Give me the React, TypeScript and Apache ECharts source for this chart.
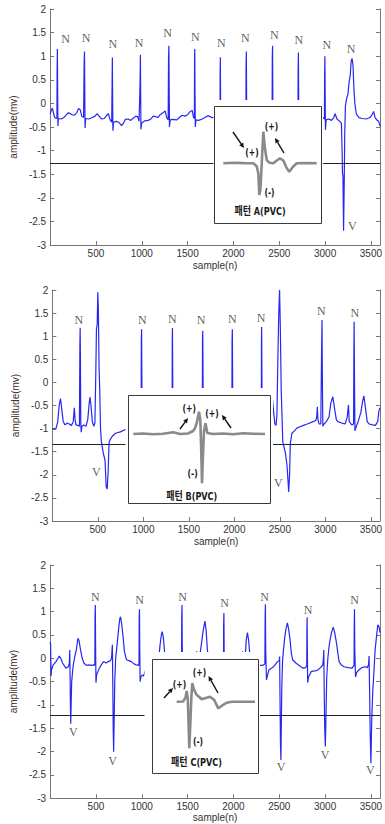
import React, { useEffect, useRef } from "react";
import * as echarts from "echarts";

// ---------- data ----------
const X_TICKS_MAX = 3600;
const THRESHOLDS = [-1.27, -1.33, -1.23];

const SIG1: number[][] = [
  [0,-0.22],[12,-0.15],[25,-0.1],[38,-0.22],[50,-0.3],[68,-0.32],[74,-0.3],[76,0.65],[79,1.15],[82,0.3],[85,-0.48],[90,-0.32],[120,-0.33],[150,-0.3],[175,-0.25],[195,-0.2],[215,-0.21],[240,-0.24],[265,-0.25],[290,-0.2],[310,-0.11],[330,-0.14],[345,-0.27],[365,-0.3],[371,0.85],[375,1.1],[378,0.3],[381,-0.52],[388,-0.32],[420,-0.33],[460,-0.3],[490,-0.27],[510,-0.22],[530,-0.26],[560,-0.33],[590,-0.32],[615,-0.26],[635,-0.22],[655,-0.35],[672,-0.4],[676,0.4],[679,0.97],[682,0.1],[685,-0.58],[692,-0.4],[720,-0.38],[750,-0.4],[780,-0.47],[800,-0.42],[820,-0.34],[850,-0.33],[880,-0.36],[910,-0.31],[935,-0.27],[955,-0.28],[970,-0.38],[981,0.4],[985,1.03],[988,0.2],[991,-0.55],[998,-0.42],[1030,-0.37],[1070,-0.36],[1100,-0.33],[1125,-0.27],[1150,-0.28],[1175,-0.3],[1200,-0.24],[1230,-0.2],[1255,-0.16],[1272,-0.3],[1288,-0.35],[1292,0.95],[1296,1.22],[1299,0.3],[1302,-0.5],[1310,-0.35],[1340,-0.34],[1380,-0.35],[1410,-0.3],[1440,-0.25],[1470,-0.27],[1500,-0.24],[1530,-0.17],[1550,-0.15],[1565,-0.3],[1574,-0.32],[1576,0.9],[1578,1.15],[1581,0.2],[1584,-0.5],[1592,-0.35],[1620,-0.36],[1660,-0.33],[1690,-0.3],[1720,-0.26],[1745,-0.28],[1765,-0.3],[1800,-0.3],[1840,-0.3],[1854,-0.3],[1855,0.65],[1857,0.98],[1860,0.1],[1863,-0.5],[1870,-0.33],[1950,-0.3],[2050,-0.3],[2136,-0.3],[2138,0.8],[2141,1.1],[2144,0.1],[2147,-0.5],[2155,-0.33],[2250,-0.3],[2350,-0.3],[2422,-0.3],[2424,0.95],[2427,1.22],[2430,0.1],[2433,-0.5],[2440,-0.33],[2550,-0.3],[2650,-0.3],[2704,-0.3],[2706,0.7],[2709,1.08],[2712,0.1],[2715,-0.5],[2722,-0.33],[2820,-0.3],[2900,-0.25],[2920,-0.15],[2945,-0.22],[2975,-0.3],[2993,-0.33],[2995,0.6],[2998,1.0],[3001,0.2],[3004,-0.56],[3012,-0.35],[3040,-0.33],[3070,-0.36],[3095,-0.3],[3110,-0.22],[3130,-0.33],[3160,-0.38],[3178,-0.42],[3186,-1.0],[3190,-1.48],[3195,-1.52],[3199,-2.2],[3202,-2.7],[3206,-2.1],[3210,-1.5],[3215,-0.6],[3222,-0.05],[3235,0.1],[3250,0.2],[3262,0.45],[3275,0.6],[3285,0.9],[3295,0.95],[3305,0.8],[3315,0.3],[3325,0.0],[3340,-0.22],[3370,-0.3],[3400,-0.32],[3450,-0.33],[3490,-0.3],[3510,-0.25],[3530,-0.17],[3545,-0.3],[3565,-0.35],[3585,-0.38],[3600,-0.48]
];

const SIG2: number[][] = [
  [0,-0.99],[20,-1.02],[40,-1.0],[60,-0.85],[75,-0.5],[90,-0.35],[105,-0.6],[120,-0.85],[140,-0.92],[165,-0.88],[185,-0.9],[210,-0.93],[230,-0.85],[242,-0.55],[250,-0.8],[260,-0.92],[280,-0.93],[298,-0.95],[303,0.8],[306,1.18],[309,0.5],[313,-0.9],[318,-1.08],[325,-0.95],[345,-0.92],[370,-0.95],[390,-0.8],[405,-0.45],[414,-0.32],[425,-0.5],[440,-0.85],[455,-0.95],[468,-0.88],[478,0.2],[485,1.15],[493,1.25],[500,1.95],[506,1.6],[514,0.3],[521,-0.16],[530,-1.0],[539,-1.28],[560,-1.53],[579,-1.68],[592,-2.26],[603,-2.31],[614,-1.9],[624,-1.3],[633,-1.25],[657,-1.17],[694,-1.1],[748,-1.07],[791,-1.03],[830,-1.0],[870,-1.0],[920,-0.98],[976,-0.98],[978,0.9],[981,1.15],[984,0.1],[987,-1.0],[995,-0.98],[1100,-1.0],[1200,-0.98],[1316,-1.0],[1318,0.9],[1320,1.18],[1323,0.1],[1326,-1.0],[1400,-0.98],[1500,-1.0],[1648,-1.0],[1650,0.9],[1653,1.12],[1656,0.1],[1659,-1.0],[1750,-1.0],[1850,-0.98],[1973,-1.0],[1975,0.9],[1978,1.15],[1981,0.1],[1984,-1.0],[2100,-0.98],[2200,-1.0],[2296,-1.0],[2298,0.9],[2300,1.2],[2303,0.1],[2306,-1.0],[2340,-0.97],[2371,-0.96],[2395,-0.7],[2410,-0.4],[2418,-0.35],[2430,-0.6],[2445,-0.9],[2458,-0.93],[2468,-0.7],[2478,0.5],[2488,1.5],[2497,2.0],[2505,1.2],[2515,-0.16],[2532,-1.28],[2561,-1.53],[2580,-1.82],[2597,-2.37],[2607,-2.0],[2615,-1.32],[2633,-1.1],[2660,-1.05],[2687,-0.99],[2720,-0.96],[2759,-0.93],[2800,-0.9],[2866,-0.85],[2895,-0.82],[2905,-0.75],[2912,-0.53],[2918,-0.8],[2930,-0.9],[2950,-0.9],[2958,0.6],[2963,1.35],[2967,0.1],[2972,-0.95],[2985,-0.9],[3010,-0.85],[3040,-0.75],[3060,-0.45],[3082,-0.31],[3100,-0.55],[3120,-0.8],[3136,-0.85],[3180,-0.88],[3217,-0.9],[3240,-0.75],[3254,-0.49],[3262,-0.85],[3290,-0.92],[3310,-0.9],[3313,0.5],[3316,1.31],[3320,0.1],[3325,-1.05],[3340,-0.95],[3360,-0.85],[3390,-0.65],[3410,-0.4],[3423,-0.29],[3440,-0.55],[3460,-0.85],[3480,-0.9],[3520,-0.92],[3550,-0.93],[3575,-0.85],[3590,-0.6],[3600,-0.55]
];

const SIG3: number[][] = [
  [0,0.35],[5,0.3],[10,-0.38],[15,-0.25],[30,-0.15],[64,-0.07],[100,0.05],[120,-0.02],[136,-0.1],[171,-0.21],[200,-0.18],[210,-0.1],[214,0.18],[218,-0.4],[222,-1.1],[225,-1.4],[229,-1.0],[235,-0.5],[250,-0.18],[270,0.05],[286,0.18],[303,0.43],[315,0.38],[332,0.18],[350,0.0],[368,-0.1],[395,-0.15],[421,-0.14],[450,-0.15],[475,-0.14],[485,-0.15],[488,-0.1],[490,0.9],[493,1.14],[496,0.3],[500,-0.52],[508,-0.35],[528,-0.25],[555,-0.15],[582,-0.07],[610,-0.1],[635,-0.07],[657,-0.05],[670,0.0],[679,0.29],[684,-0.6],[688,-1.5],[693,-2.0],[698,-1.4],[705,-0.5],[715,0.0],[725,0.18],[738,0.45],[750,0.68],[760,0.85],[768,0.89],[780,0.75],[796,0.46],[810,0.15],[832,-0.03],[860,-0.05],[886,-0.07],[915,-0.12],[939,-0.14],[965,-0.15],[970,-0.1],[972,0.9],[975,1.05],[978,0.2],[982,-0.5],[990,-0.4],[1004,-0.36],[1020,-0.38],[1050,-0.2],[1080,-0.15],[1110,-0.1],[1140,-0.1],[1150,0.1],[1160,-1.0],[1167,-1.8],[1175,-0.8],[1185,0.0],[1200,0.3],[1215,0.52],[1224,0.57],[1235,0.45],[1248,0.15],[1265,-0.05],[1300,-0.1],[1350,-0.15],[1420,-0.15],[1434,-0.15],[1436,0.9],[1439,1.14],[1442,0.2],[1446,-0.5],[1460,-0.3],[1500,-0.15],[1560,-0.1],[1595,-0.05],[1600,0.15],[1605,-1.0],[1612,-1.9],[1620,-1.0],[1630,0.0],[1650,0.3],[1670,0.6],[1689,0.8],[1702,0.6],[1715,0.2],[1730,-0.05],[1800,-0.12],[1880,-0.15],[1892,-0.15],[1893,0.7],[1896,0.97],[1899,0.1],[1903,-0.5],[1915,-0.3],[1980,-0.15],[2060,-0.1],[2095,-0.05],[2100,0.15],[2106,-1.0],[2112,-1.9],[2120,-1.0],[2128,0.0],[2140,0.4],[2153,0.55],[2165,0.4],[2178,0.1],[2200,-0.05],[2240,-0.1],[2261,-0.1],[2290,-0.15],[2320,-0.15],[2343,-0.12],[2346,0.9],[2349,1.16],[2352,0.2],[2360,-0.46],[2386,-0.25],[2439,-0.18],[2482,-0.07],[2500,-0.05],[2504,0.04],[2508,-0.8],[2513,-1.8],[2518,-2.18],[2522,-1.5],[2528,-0.6],[2536,-0.05],[2546,0.18],[2560,0.45],[2571,0.61],[2589,0.76],[2603,0.62],[2618,0.39],[2632,0.1],[2646,-0.03],[2680,-0.1],[2707,-0.14],[2735,-0.18],[2761,-0.21],[2790,-0.2],[2800,-0.15],[2802,0.6],[2804,0.88],[2807,0.1],[2810,-0.52],[2820,-0.4],[2850,-0.28],[2890,-0.27],[2921,-0.25],[2950,-0.2],[2975,-0.14],[2982,0.0],[2986,0.18],[2990,-0.6],[2996,-1.5],[3003,-1.89],[3010,-1.2],[3018,-0.4],[3029,-0.03],[3040,0.2],[3054,0.39],[3070,0.55],[3089,0.67],[3105,0.55],[3125,0.32],[3140,0.1],[3153,-0.07],[3180,-0.15],[3207,-0.18],[3250,-0.2],[3296,-0.21],[3316,-0.15],[3318,0.7],[3321,1.05],[3324,0.2],[3332,-0.4],[3345,-0.3],[3367,-0.25],[3400,-0.2],[3439,-0.18],[3460,-0.2],[3474,-0.14],[3480,0.05],[3485,-0.6],[3492,-1.6],[3500,-2.25],[3508,-1.4],[3520,-0.7],[3528,-0.46],[3538,-0.1],[3546,0.18],[3560,0.45],[3575,0.72],[3588,0.68],[3600,0.55]
];

// beat labels: [sample, amplitude, text]
const LABELS1: [number, number, string][] = [
  [168,1.36,"N"],[393,1.39,"N"],[685,1.25,"N"],[971,1.29,"N"],[1282,1.49,"N"],[1585,1.41,"N"],[1867,1.27,"N"],[2131,1.38,"N"],[2445,1.45,"N"],[2713,1.34,"N"],[3019,1.24,"N"],[3284,1.15,"N"],[3297,-2.6,"V"]
];
const LABELS2: [number, number, string][] = [
  [291,1.35,"N"],[988,1.35,"N"],[1319,1.37,"N"],[1634,1.34,"N"],[1979,1.37,"N"],[2295,1.4,"N"],[2957,1.55,"N"],[3323,1.5,"N"],[485,-1.95,"V"],[2483,-2.17,"V"]
];
const LABELS3: [number, number, string][] = [
  [493,1.32,"N"],[975,1.25,"N"],[1446,1.32,"N"],[1904,1.18,"N"],[2339,1.32,"N"],[2814,1.04,"N"],[3321,1.25,"N"],[254,-1.57,"V"],[682,-2.19,"V"],[2521,-2.32,"V"],[3000,-2.07,"V"],[3493,-2.39,"V"]
];

// inset PVC templates (inset units)
const PVC_A: number[][] = [
  [9.3,0],[20,0.05],[30,0.02],[39.3,0],[42.7,-0.3],[44.3,-1.0],[45.3,-3.17],[46.4,-2.6],[47.6,-0.3],[49.3,3.16],[50.8,1.6],[52.7,0.33],[55.5,0.05],[59.3,0],[62.5,0.25],[66,0.5],[69.5,0.25],[72.5,-0.45],[75.3,-0.84],[79,-0.35],[82.7,0],[92,0.03],[102.7,0]
];
const PVC_B: number[][] = [
  [5.3,0],[15,0.05],[25,-0.03],[35,0.03],[45.3,0.17],[52,0],[60,0.05],[65,0.3],[67,0.57],[69,1.2],[71,2.23],[72.3,1.4],[73.2,-1.5],[74,-4.93],[75,-2.0],[76,0.3],[77.5,1.07],[79.3,0.1],[85,0],[95,0.05],[105,-0.02],[115,0.08],[125,0.02],[137,0]
];
const PVC_C: number[][] = [
  [24.7,0],[31,0.02],[33.5,0.4],[34.7,1.07],[35.8,0.3],[36.5,-2.0],[37.3,-4.66],[38.4,-2.0],[39.4,0.5],[40.3,1.87],[42,1.2],[44.7,0.67],[47,0.5],[49.7,0.24],[53,0.35],[58,0.5],[62,0.2],[66.3,-0.66],[70,-0.4],[74.7,-0.1],[80,0],[103,0]
];

const INSET_NAMES = ["패턴 A(PVC)", "패턴 B(PVC)", "패턴 C(PVC)"];

// ---------- layout ----------
const MAIN_GRIDS = [
  { left: 49.3, top: 9, width: 336.2, height: 236, nameGap: 15 },
  { left: 52.3, top: 290, width: 334.1, height: 231, nameGap: 15 },
  { left: 49, top: 565, width: 336, height: 233.3, nameGap: 13.5 },
];
// inset boxes and their white masks
const BOXES = [
  { x: 214, y: 106, w: 107, h: 117, base: 57.3, mask: [213.5, 100, 109.5, 124] },
  { x: 128, y: 395, w: 142, h: 108, base: 39, mask: [125.5, 388, 147.5, 116] },
  { x: 152, y: 659, w: 106, h: 114, base: 42.7, mask: [144.5, 652, 115.5, 122] },
];
const INSET_TEXTS = [
  { p1: [252, 152], p2: [271.5, 126], m: [269.5, 192], name: [260, 211],
    a1: [233, 132, 244, 148], a2: [284, 153, 275, 138] },
  { p1: [189.3, 408.3], p2: [212, 413], m: [192.7, 473.3], name: [191.7, 496.5],
    a1: [180, 429, 188, 418], a2: [231, 428, 222, 415] },
  { p1: [179.5, 684], p2: [199.5, 672.7], m: [198, 741], name: [196.5, 762.5],
    a1: [164, 698, 173, 688], a2: [218, 693, 208.5, 676] },
];

const BLUE = "#2727f2";
const TXT = "#333";

function arrow(x1: number, y1: number, x2: number, y2: number) {
  const ang = Math.atan2(y2 - y1, x2 - x1);
  const L = 5, W = 2.4;
  const bx = x2 - L * Math.cos(ang), by = y2 - L * Math.sin(ang);
  const px = -Math.sin(ang) * W, py = Math.cos(ang) * W;
  return [
    { type: "line", z: 30, shape: { x1, y1, x2: bx, y2: by }, style: { stroke: "#111", lineWidth: 1.4 } },
    { type: "polygon", z: 30, shape: { points: [[x2, y2], [bx + px, by + py], [bx - px, by - py]] }, style: { fill: "#111" } },
  ];
}

function insetText(x: number, y: number, text: string, size: number, sx: number) {
  return {
    type: "text", z: 30, x, y, scaleX: sx,
    style: {
      text, fill: "#1a1a1a", fontSize: size, fontWeight: "bold",
      fontFamily: "'DejaVu Sans Condensed', 'Noto Sans CJK KR', sans-serif",
      align: "center", verticalAlign: "middle",
    },
  };
}

export default function App() {
  const ref = useRef<HTMLDivElement>(null);
  useEffect(() => {
    if (!ref.current) return;
    const chart = echarts.init(ref.current, null, { renderer: "svg" });
    const sigs = [SIG1, SIG2, SIG3];
    const labels = [LABELS1, LABELS2, LABELS3];
    const pvcs = [PVC_A, PVC_B, PVC_C];

    const grids: any[] = [];
    const xAxes: any[] = [];
    const yAxes: any[] = [];
    const series: any[] = [];

    MAIN_GRIDS.forEach((g, i) => {
      grids.push({ left: g.left, top: g.top, width: g.width, height: g.height, containLabel: false });
      xAxes.push({
        type: "value", gridIndex: i, min: 0, max: X_TICKS_MAX, interval: 500,
        name: "sample(n)", nameLocation: "middle", nameGap: g.nameGap,
        nameTextStyle: { color: TXT, fontSize: 10, fontFamily: "'Liberation Sans', Arial, sans-serif" },
        axisLine: { show: true, onZero: false, lineStyle: { color: "#777", width: 1 } },
        axisTick: { show: true, inside: true, length: 4, lineStyle: { color: "#777" } },
        axisLabel: {
          color: TXT, fontSize: 10, margin: 3, fontFamily: "'Liberation Sans', Arial, sans-serif",
          formatter: (v: number) => (v > 0 && v % 500 === 0 ? String(v) : ""),
        },
        splitLine: { show: false },
      });
    });
    MAIN_GRIDS.forEach((g, i) => {
      yAxes.push({
        type: "value", gridIndex: i, min: -3, max: 2, interval: 0.5,
        name: "amplitude(mv)", nameLocation: "middle", nameGap: 27, nameRotate: 90,
        nameTextStyle: { color: "#3b3030", fontSize: 10, fontFamily: "'Liberation Sans', Arial, sans-serif" },
        axisLine: { show: true, onZero: false, lineStyle: { color: "#777", width: 1 } },
        axisTick: { show: true, inside: true, length: 4, lineStyle: { color: "#777" } },
        axisLabel: { color: TXT, fontSize: 10, margin: 4, fontFamily: "'Liberation Sans', Arial, sans-serif" },
        splitLine: { show: false },
      });
    });

    // inset grids
    BOXES.forEach((b, i) => {
      grids.push({ left: b.x, top: b.y, width: b.w, height: b.h, containLabel: false });
      xAxes.push({ type: "value", gridIndex: 3 + i, min: 0, max: b.w, show: false });
    });
    BOXES.forEach((b, i) => {
      yAxes.push({ type: "value", gridIndex: 3 + i, min: -(b.h - b.base) / 10, max: b.base / 10, show: false });
    });
    // right-hand frame axes
    MAIN_GRIDS.forEach((g, i) => {
      yAxes.push({
        type: "value", gridIndex: i, position: "right", min: -3, max: 2, interval: 0.5,
        axisLine: { show: true, onZero: false, lineStyle: { color: "#777", width: 1 } },
        axisTick: { show: true, inside: true, length: 4, lineStyle: { color: "#777" } },
        axisLabel: { show: false }, splitLine: { show: false },
      });
    });

    sigs.forEach((s, i) => {
      series.push({
        type: "line", xAxisIndex: i, yAxisIndex: i, data: s, showSymbol: false, z: 2,
        lineStyle: { color: BLUE, width: 1.2 }, itemStyle: { color: BLUE }, clip: true,
        markLine: {
          silent: true, symbol: "none", animation: false,
          label: { show: false },
          lineStyle: { color: "#222", width: 1, type: "solid" },
          data: [{ yAxis: THRESHOLDS[i] }],
        },
      });
      series.push({
        type: "scatter", xAxisIndex: i, yAxisIndex: i, symbolSize: 0, z: 3,
        data: labels[i].map((d) => ({ value: [d[0], d[1]], name: d[2] })),
        label: {
          show: true, position: "inside", formatter: "{b}", color: TXT, fontSize: 12,
          fontFamily: "'Liberation Serif', 'DejaVu Serif', serif",
        },
      });
    });
    pvcs.forEach((p, i) => {
      series.push({
        type: "line", xAxisIndex: 3 + i, yAxisIndex: 3 + i, data: p, showSymbol: false, z: 20,
        lineStyle: { color: "#8a8a8a", width: 2.6 }, itemStyle: { color: "#8a8a8a" }, clip: false,
      });
    });

    const graphic: any[] = [];
    BOXES.forEach((b, i) => {
      graphic.push({ type: "rect", z: 10, shape: { x: b.mask[0], y: b.mask[1], width: b.mask[2], height: b.mask[3] }, style: { fill: "#fff" } });
      graphic.push({ type: "rect", z: 11, shape: { x: b.x + 0.5, y: b.y + 0.5, width: b.w, height: b.h }, style: { fill: "none", stroke: "#3a3a3a", lineWidth: 1 } });
      const t = INSET_TEXTS[i];
      graphic.push(insetText(t.p1[0], t.p1[1], "(+)", 10, 0.85));
      graphic.push(insetText(t.p2[0], t.p2[1], "(+)", 10, 0.85));
      graphic.push(insetText(t.m[0], t.m[1], "(-)", 10, 0.85));
      graphic.push(insetText(t.name[0], t.name[1], INSET_NAMES[i], 11, 0.82));
      graphic.push(...arrow(t.a1[0], t.a1[1], t.a1[2], t.a1[3]));
      graphic.push(...arrow(t.a2[0], t.a2[1], t.a2[2], t.a2[3]));
    });

    chart.setOption({
      animation: false,
      backgroundColor: "#fff",
      grid: grids, xAxis: xAxes, yAxis: yAxes, series, graphic,
    });
    return () => chart.dispose();
  }, []);
  return (
    <div ref={ref} style={{ position: "absolute", left: 0, top: 0, width: 385, height: 824, background: "#fff" }} />
  );
}
